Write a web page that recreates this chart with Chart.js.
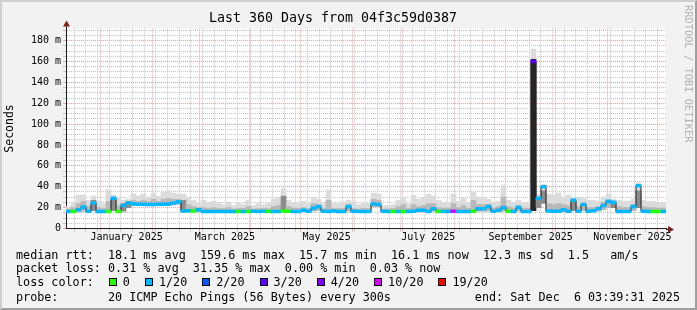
<!DOCTYPE html>
<html>
<head>
<meta charset="utf-8">
<script src="https://cdn.jsdelivr.net/npm/chart.js@4/dist/chart.umd.min.js"></script>
<style>
  html, body { margin: 0; padding: 0; background: #f2f2f2; }
  #wrap { position: relative; width: 697px; height: 310px; overflow: hidden; background: #f2f2f2; }
  #frame { position: absolute; left: 0; top: 0; width: 697px; height: 310px; box-sizing: border-box;
    border-top: 2px solid #cfcfcf; border-left: 2px solid #cfcfcf;
    border-right: 2px solid #9e9e9e; border-bottom: 2px solid #9e9e9e; pointer-events: none; }
  canvas { position: absolute; left: 0; top: 0; }
  .leg { position: absolute; left: 16px; height: 14px; line-height: 14px; white-space: pre;
    font: 11.75px "DejaVu Sans Mono", monospace; color: #000; }
  #l3 { display: flex; align-items: center; }
  .sw { display: inline-block; width: 6px; height: 6px; border: 1px solid #000; margin-right: 6px; }
  .sl { margin-right: 15px; }
  #end { position: absolute; right: 17px; top: 290px; height: 14px; line-height: 14px; white-space: pre;
    font: 11.75px "DejaVu Sans Mono", monospace; color: #000; }
  #mark { position: absolute; left: 683px; top: 5px; writing-mode: vertical-rl; white-space: pre;
    font: 10.4px "DejaVu Sans Mono", monospace; color: #b4b4b4; }
</style>
</head>
<body>
<div id="wrap">
  <canvas id="chart" width="697" height="310"></canvas>
  <div class="leg" style="top:248px">median rtt:  18.1 ms avg  159.6 ms max  15.7 ms min  16.1 ms now  12.3 ms sd  1.5   am/s</div>
  <div class="leg" style="top:261px">packet loss: 0.31 % avg  31.35 % max  0.00 % min  0.03 % now</div>
  <div class="leg" id="l3" style="top:275px"><span>loss color:</span><span style="width:15px"></span></div>
  <div class="leg" style="top:290px">probe:       20 ICMP Echo Pings (56 Bytes) every 300s</div>
  <div id="end">end: Sat Dec  6 03:39:31 2025</div>
  <div id="mark">RRDTOOL / TOBI OETIKER</div>
  <div id="frame"></div>
</div>
<script>
// one column every 3 days, 120 columns over the last 360 days
const colStart = 1.5;
const colStep = 3;

const median = [
  16.3, 16.3, 18, 20.5, 16.5, 24.5, 16.3, 16.3, 16.3, 29,
  16.3, 22, 24.5, 23.5, 23.3, 23.3, 23, 23, 23.3, 23.3,
  23.5, 24.5, 25.5, 16.8, 17, 16.8, 18, 16.3, 16.3, 16.3,
  16.3, 16.3, 16.3, 16.3, 16.3, 16.3, 16.3, 16.5, 16.3, 16.5,
  16.3, 16.3, 16.3, 16.8, 16.5, 16.3, 16.3, 17.5, 16.5, 19.5,
  21, 16.5, 16.3, 16.8, 16.3, 16.3, 21, 16.5, 16.3, 16.3,
  16.3, 23.5, 23, 16.5, 16.3, 16.3, 16.3, 16.3, 16.3, 16.5,
  17.5, 17.5, 16.3, 19, 16.3, 16.3, 16.3, 16.5, 16.3, 16.3,
  16.3, 16.5, 19, 19, 21, 16.5, 17.5, 20, 16.5, 16.3,
  20, 16.3, 16.3, 160, 29, 40, 16.8, 16.5, 16.5, 18,
  16.5, 27, 16.5, 23, 16.5, 17, 19, 22, 26, 25,
  16.3, 16.3, 16.3, 21, 41, 16.5, 16.3, 16.3, 16.3, 16.3
];

// lost pings bucket per column (index into lossLabels)
const lossLevel = [
  1, 0, 1, 1, 1, 1, 1, 1, 0, 1,
  0, 1, 1, 1, 1, 1, 1, 1, 1, 1,
  1, 1, 1, 1, 1, 0, 1, 1, 1, 1,
  1, 1, 1, 1, 0, 1, 0, 1, 1, 1,
  0, 1, 1, 0, 0, 1, 1, 1, 1, 1,
  1, 1, 1, 1, 1, 1, 1, 1, 1, 1,
  1, 1, 1, 1, 1, 0, 1, 0, 1, 1,
  1, 1, 1, 1, 0, 1, 1, 5, 1, 1,
  1, 0, 1, 1, 1, 1, 1, 1, 0, 1,
  1, 1, 1, 3, 1, 1, 1, 1, 1, 1,
  1, 1, 1, 1, 1, 1, 1, 1, 1, 1,
  1, 1, 1, 1, 1, 1, 1, 0, 0, 1
];

const smokeLow = [
  15.8, 15.8, 16, 16.5, 15.8, 17, 15.8, 15.8, 15.8, 17,
  15.8, 16.5, 20, 22, 22, 22, 21.8, 21.8, 22, 22,
  22, 22.5, 23, 16, 16, 15.8, 16, 15.8, 15.8, 15.8,
  15.8, 15.8, 15.8, 15.8, 15.8, 15.8, 15.8, 15.8, 15.8, 15.8,
  15.8, 15.8, 15.8, 15.8, 15.8, 15.8, 15.8, 16, 15.8, 16.5,
  17, 15.8, 15.8, 15.8, 15.8, 15.8, 16.5, 15.8, 15.8, 15.8,
  15.8, 21, 21, 15.8, 15.8, 15.8, 15.8, 15.8, 15.8, 15.8,
  15.8, 15.8, 15.8, 16.5, 15.8, 15.8, 15.8, 15.8, 15.8, 15.8,
  15.8, 15.8, 16.5, 16.5, 16.5, 15.8, 15.8, 16.5, 15.8, 15.8,
  16.5, 15.8, 15.8, 17, 20, 24, 15.8, 15.8, 15.8, 16,
  15.8, 17, 15.8, 17, 15.8, 15.8, 16.5, 18, 20, 20,
  15.8, 15.8, 15.8, 17, 20, 15.8, 15.8, 15.8, 15.8, 15.8
];

const smokeMid = [
  18.5, 20, 24, 26, 21, 27, 20, 19, 26, 28,
  22, 24, 26, 27, 26, 27, 26, 28, 26, 28,
  29, 28, 28, 27, 23, 21, 20, 20, 19, 20,
  19, 19, 20, 18.5, 19, 19, 21, 18.5, 19, 19,
  19, 21, 22, 31, 21, 19.5, 19, 20, 19, 24,
  23, 19, 27, 19, 19, 19, 23, 19, 18.5, 19,
  19, 28, 27, 18.5, 18.5, 19, 21, 23, 19, 23,
  21, 22, 24, 24, 20, 19.5, 19.5, 24, 20, 22,
  19.5, 27, 23, 23, 23, 19.5, 21, 30, 21, 19.5,
  22, 19.5, 19.5, 162, 29, 36, 24, 23, 24, 23,
  22, 25, 21, 24, 20, 20, 21, 25, 27, 25,
  21, 20, 20, 23, 36, 21, 20, 20, 19.5, 19.5
];

const smokeHi = [
  21, 25, 32, 32, 27, 31, 26, 24, 37, 32,
  30, 27, 28, 33, 31, 33, 30, 34, 31, 35,
  36, 34, 33, 33, 30, 27, 24, 27, 25, 26,
  24, 23, 25, 22, 24, 23, 27, 22, 24, 23,
  24, 28, 29, 38, 27, 25, 24, 26, 24, 30,
  28, 24, 37, 24, 24, 25, 27, 24, 23, 24,
  24, 34, 33, 22, 22, 23, 27, 30, 24, 32,
  28, 30, 33, 31, 27, 25, 25, 33, 26, 29,
  25, 35, 30, 30, 28, 25, 26, 41.5, 27, 25,
  27, 25, 25, 172, 33, 42, 33, 32, 34, 30,
  32, 29, 30, 29, 27, 27, 26, 30, 33, 28,
  27, 26, 26, 28, 44, 27, 26, 26, 25, 25
];

const lossLabels = ['0', '1/20', '2/20', '3/20', '4/20', '10/20', '19/20'];
const lossColors = ['#26ff00', '#00b8ff', '#0059ff', '#5e00ff', '#7e00ff', '#dd00ff', '#ff0000'];

const xLabels = ['January 2025', 'March 2025', 'May 2025', 'July 2025', 'September 2025', 'November 2025'];
const xLabelMonths = [[2025, 0], [2025, 2], [2025, 4], [2025, 6], [2025, 8], [2025, 10]];

const yMax = 191.7;
const yStepMinor = 5;
const yStepMajor = 20;

// time axis in days from the start of the window
const DAY = 86400000;
const spanDays = 360;
const endTime = Date.UTC(2025, 11, 6, 3, 39, 31);
const startTime = endTime - spanDays * DAY;
const dayOf = t => (t - startTime) / DAY;

const tickInfo = new Map();
const key = v => v.toFixed(4);
function addTick(v, kind, label) {
  if (v < 0 || v > spanDays) return;
  const k = key(v);
  const old = tickInfo.get(k);
  if (old && old.kind === 'major') return;
  tickInfo.set(k, { value: v, kind, label: label || '' });
}
// weekly minor lines (Mondays)
let t = Date.UTC(2024, 11, 16);
while (t < endTime) { addTick(dayOf(t), 'minor'); t += 7 * DAY; }
// month starts
for (let m = 0; m < 14; m++) {
  const ms = Date.UTC(2024, 11 + m, 1);
  addTick(dayOf(ms), 'major');
}
xLabels.forEach((lab, i) => {
  const [y, m] = xLabelMonths[i];
  const mid = (Date.UTC(y, m, 1) + Date.UTC(y, m + 1, 1)) / 2;
  addTick(dayOf(mid), 'label', lab);
});

const gridGray = '#c4c4c4';
const gridRed = '#eda3a3';
const axisColor = '#1f1f1f';
const mono = 'DejaVu Sans Mono';
const plotWidth = 600;
const colWidth = plotWidth / median.length;

const xs = median.map((_, i) => colStart + i * colStep);
const pts = arr => arr.map((v, i) => ({ x: xs[i], y: v }));
const band = (lo, hi) => lo.map((v, i) => ({ x: xs[i], y: [v, hi[i]] }));

// darker smoke where the pings are packed close together
function innerShade(ctx) {
  const i = ctx.dataIndex;
  if (i === undefined) return '#b8b8b8';
  const r = (smokeMid[i] - smokeLow[i]) / (smokeHi[i] - smokeLow[i]);
  if (r > 0.85) return '#262626';
  if (r > 0.62) return '#8c8c8c';
  return '#b9b9b9';
}

// legend swatches
const l3 = document.getElementById('l3');
lossLabels.forEach((lab, i) => {
  const sw = document.createElement('span');
  sw.className = 'sw';
  sw.style.background = lossColors[i];
  const tx = document.createElement('span');
  tx.className = 'sl';
  tx.textContent = lab;
  l3.appendChild(sw);
  l3.appendChild(tx);
});

const canvasBg = {
  id: 'canvasBg',
  beforeDraw(chart) {
    const { ctx, chartArea: a } = chart;
    ctx.save();
    ctx.fillStyle = '#ffffff';
    ctx.fillRect(a.left, a.top, a.right - a.left, a.bottom - a.top);
    ctx.restore();
  }
};

const arrows = {
  id: 'arrows',
  afterDraw(chart) {
    const { ctx, chartArea: a } = chart;
    const x0 = Math.round(a.left) + 0.5;
    const y0 = Math.round(a.bottom) + 0.5;
    ctx.save();
    ctx.strokeStyle = axisColor;
    ctx.lineWidth = 1;
    ctx.beginPath();
    ctx.moveTo(x0, a.top); ctx.lineTo(x0, a.top - 3);
    ctx.moveTo(a.right, y0); ctx.lineTo(a.right + 3, y0);
    ctx.stroke();
    ctx.fillStyle = '#801f1f';
    ctx.beginPath();
    ctx.moveTo(x0, a.top - 8); ctx.lineTo(x0 + 3.5, a.top - 2); ctx.lineTo(x0 - 3.5, a.top - 2);
    ctx.closePath(); ctx.fill();
    ctx.beginPath();
    ctx.moveTo(a.right + 8, y0); ctx.lineTo(a.right + 2, y0 - 3.5); ctx.lineTo(a.right + 2, y0 + 3.5);
    ctx.closePath(); ctx.fill();
    ctx.restore();
  }
};

const barCommon = { type: 'bar', grouped: false, barThickness: colWidth, borderWidth: 0 };

new Chart(document.getElementById('chart'), {
  type: 'line',
  data: {
    datasets: [
      Object.assign({}, barCommon, { label: 'smoke', data: band(smokeLow, smokeHi), backgroundColor: '#dcdcdc', order: 5 }),
      Object.assign({}, barCommon, { label: 'smoke core', data: band(smokeLow, smokeMid), backgroundColor: innerShade, order: 4 }),
      { type: 'line', label: 'median', data: pts(median), stepped: 'middle', borderColor: '#202020',
        borderWidth: 1, pointRadius: 0, fill: false, order: 2 },
      Object.assign({}, barCommon, { label: 'loss', data: median.map((v, i) => ({ x: xs[i], y: [v - 1.4, v + 1.4] })),
        backgroundColor: ctx => lossColors[lossLevel[ctx.dataIndex] || 0], order: 1 })
    ]
  },
  options: {
    responsive: false,
    animation: false,
    devicePixelRatio: 1,
    events: [],
    layout: { padding: { left: 0, right: 31, top: 0, bottom: 0 } },
    plugins: {
      legend: { display: false },
      tooltip: { enabled: false },
      title: {
        display: true,
        text: 'Last 360 Days from 04f3c59d0387',
        color: '#000',
        font: { family: mono, size: 13.3, weight: 'normal' },
        padding: { top: 11, bottom: 1.5 }
      }
    },
    scales: {
      x: {
        type: 'linear',
        min: 0,
        max: spanDays,
        offset: false,
        afterBuildTicks: s => { s.ticks = [...tickInfo.values()].sort((a, b) => a.value - b.value).map(o => ({ value: o.value })); },
        afterFit: s => { s.height = 81.5; },
        grid: {
          offset: false,
          color: c => {
            const o = c.tick && tickInfo.get(key(c.tick.value));
            if (!o || o.kind === 'label') return 'rgba(0,0,0,0)';
            return o.kind === 'major' ? gridRed : gridGray;
          },
          tickLength: 3
        },
        border: { color: axisColor, width: 1, dash: [1, 1] },
        ticks: {
          autoSkip: false,
          maxRotation: 0,
          padding: 0,
          color: '#000',
          font: { family: mono, size: 10 },
          callback: v => { const o = tickInfo.get(key(v)); return o ? o.label : ''; }
        }
      },
      y: {
        type: 'linear',
        min: 0,
        max: yMax,
        afterBuildTicks: s => {
          const out = [];
          for (let v = 0; v <= yMax; v += yStepMinor) out.push({ value: v });
          s.ticks = out;
        },
        afterFit: s => { s.width = 66; },
        grid: {
          color: c => (c.tick && c.tick.value % yStepMajor === 0) ? gridRed : gridGray,
          tickLength: 3
        },
        border: { color: axisColor, width: 1, dash: [1, 1] },
        title: {
          display: true,
          text: 'Seconds',
          color: '#000',
          font: { family: mono, size: 11.5 },
          padding: { top: 3, bottom: 0 }
        },
        ticks: {
          autoSkip: false,
          padding: 2,
          color: '#000',
          font: { family: mono, size: 10 },
          callback: v => v % yStepMajor === 0 ? (v === 0 ? '0' : v + ' m') : ''
        }
      }
    }
  },
  plugins: [canvasBg, arrows]
});
</script>
</body>
</html>
